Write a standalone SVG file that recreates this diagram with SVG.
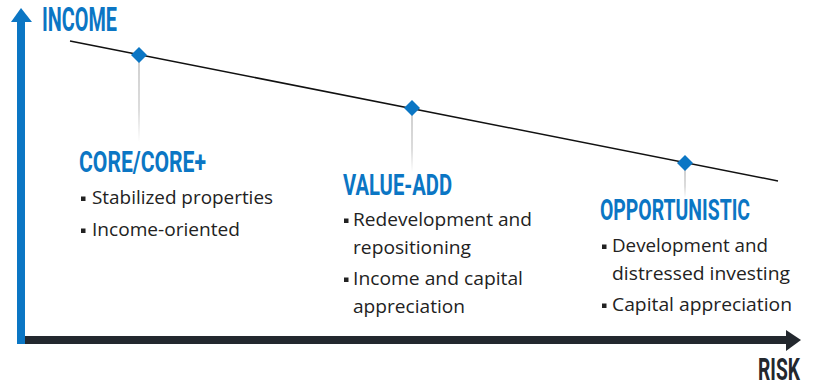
<svg xmlns="http://www.w3.org/2000/svg" width="813" height="383" viewBox="0 0 813 383">
<style>
.title{font-family:Roboto,"Liberation Sans",sans-serif;font-weight:700;fill:#0b76c4}
.body{font-family:"Open Sans","Liberation Sans",sans-serif;font-size:17.5px;fill:#222}
.bullet{fill:#222}
.diamond{fill:#0b76c4}
.drop{fill:url(#fade)}
</style>
<defs>
<linearGradient id="fade" x1="0" y1="0" x2="0" y2="1">
<stop offset="0" stop-color="#d0d0d0"/>
<stop offset="0.6" stop-color="#dcdcdc"/>
<stop offset="1" stop-color="#ffffff"/>
</linearGradient>
</defs>
<g id="axes">
<rect x="25" y="336" width="763" height="8" fill="#23282e"/>
<polygon points="786,330 801,340 786,351" fill="#23282e"/>
<rect x="17" y="20" width="8" height="324" fill="#0b76c4"/>
<polygon points="11,22 21,8 32,22" fill="#0b76c4"/>
<text class="title" transform="translate(42,31) scale(0.6,1)" font-size="33" textLength="125" lengthAdjust="spacingAndGlyphs">INCOME</text>
<text class="title" transform="translate(758,380) scale(0.6,1)" font-size="32" textLength="70" lengthAdjust="spacingAndGlyphs" style="fill:#23282e">RISK</text>
</g>
<g id="connectors">
<line x1="70" y1="41" x2="778" y2="181" stroke="#111" stroke-width="1.5"/>
<rect class="drop" x="138" y="60" width="2" height="82"/>
<rect class="drop" x="411" y="114" width="2" height="58"/>
<rect class="drop" x="684" y="169" width="2" height="29"/>
</g>
<g id="core">
<polygon class="diamond" points="139,47 147,55 139,63 131,55"/>
<text class="title" transform="translate(79,172) scale(0.6,1)" font-size="30" textLength="211.7" lengthAdjust="spacingAndGlyphs">CORE/CORE+</text>
<rect class="bullet" x="81" y="196.5" width="4.5" height="4.5"/>
<text class="body" x="92" y="204" textLength="181" lengthAdjust="spacingAndGlyphs">Stabilized properties</text>
<rect class="bullet" x="81" y="228.5" width="4.5" height="4.5"/>
<text class="body" x="92" y="236" textLength="148" lengthAdjust="spacingAndGlyphs">Income-oriented</text>
</g>
<g id="value-add">
<polygon class="diamond" points="412,100 420,108 412,116 404,108"/>
<text class="title" transform="translate(343,195) scale(0.6,1)" font-size="30" textLength="181.7" lengthAdjust="spacingAndGlyphs">VALUE-ADD</text>
<rect class="bullet" x="344" y="218.5" width="4.5" height="4.5"/>
<text class="body" x="353" y="226" textLength="179" lengthAdjust="spacingAndGlyphs">Redevelopment and</text>
<text class="body" x="353" y="254" textLength="118" lengthAdjust="spacingAndGlyphs">repositioning</text>
<rect class="bullet" x="344" y="277.5" width="4.5" height="4.5"/>
<text class="body" x="353" y="285" textLength="170" lengthAdjust="spacingAndGlyphs">Income and capital</text>
<text class="body" x="353" y="313" textLength="112" lengthAdjust="spacingAndGlyphs">appreciation</text>
</g>
<g id="opportunistic">
<polygon class="diamond" points="685,155 693,163 685,171 677,163"/>
<text class="title" transform="translate(600,220) scale(0.6,1)" font-size="30" textLength="250" lengthAdjust="spacingAndGlyphs">OPPORTUNISTIC</text>
<rect class="bullet" x="602" y="244.5" width="4.5" height="4.5"/>
<text class="body" x="612" y="252" textLength="156" lengthAdjust="spacingAndGlyphs">Development and</text>
<text class="body" x="612" y="280" textLength="178" lengthAdjust="spacingAndGlyphs">distressed investing</text>
<rect class="bullet" x="602" y="303.5" width="4.5" height="4.5"/>
<text class="body" x="612" y="311" textLength="180" lengthAdjust="spacingAndGlyphs">Capital appreciation</text>
</g>
</svg>
